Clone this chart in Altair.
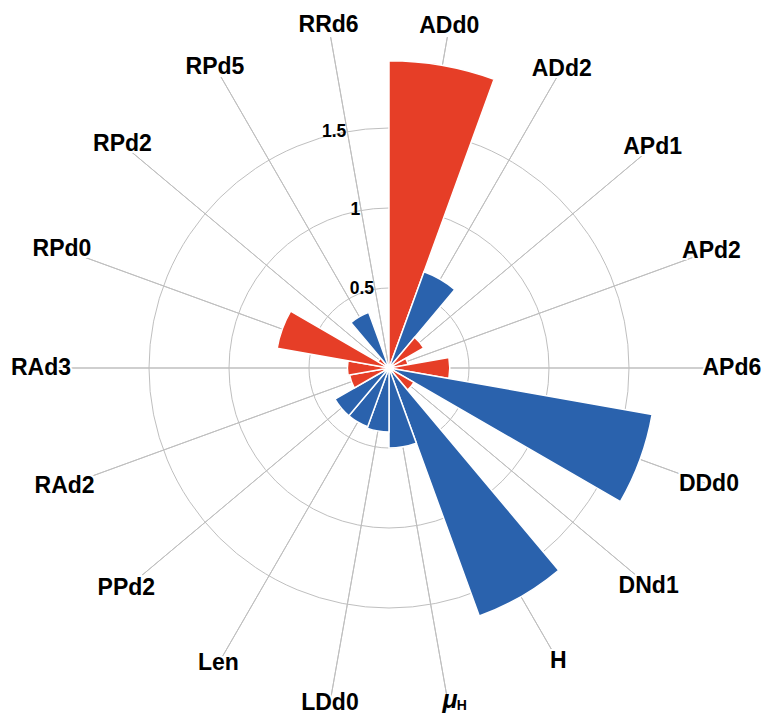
import altair as alt
import numpy as np
import pandas as pd

categories = ["ADd0", "ADd2", "APd1", "APd2", "APd6", "DDd0", "DNd1", "H", "μH",
              "LDd0", "Len", "PPd2", "RAd2", "RAd3", "RPd0", "RPd2", "RPd5", "RRd6"]
values = [1.92, 0.64, 0.25, 0.12, 0.38, 1.67, 0.18, 1.65, 0.50,
          0.40, 0.39, 0.39, 0.25, 0.26, 0.71, 0.08, 0.37, 0.02]
signs = ["pos", "neg", "pos", "pos", "pos", "neg", "pos", "neg", "neg",
         "neg", "neg", "neg", "pos", "pos", "pos", "pos", "neg", "pos"]
grid_values = [0.5, 1.0, 1.5]
grid_labels = ["0.5", "1", "1.5"]

RED = "#E63E27"
BLUE = "#2A62AD"
GRID = "#bfbfbf"
FONT = "Liberation Sans"

n = len(categories)
step = 360.0 / n
df = pd.DataFrame({
    "cat": categories,
    "value": values,
    "sign": signs,
    "start": [i * step for i in range(n)],
    "end": [(i + 1) * step for i in range(n)],
    "mid": [(i + 0.5) * step for i in range(n)],
})
df["spoke"] = 2.1
rad = np.deg2rad(df["mid"])
# label ring, pulled in slightly on the right and bottom so the text stays inside the page
df["labr"] = 2.175 - 0.032 * np.clip(np.sin(rad), 0, None) - 0.05 * np.clip(-np.cos(rad), 0, None)

grid_df = pd.DataFrame({"r": grid_values, "lab": grid_labels, "t0": 0.0, "t1": 360.0, "ta": 350.0})

theta_scale = alt.Scale(domain=[0, 360], range=[0, 6.283185307179586])
r_scale = alt.Scale(type="linear", domain=[0, 2], range=[0, 320])

CX = alt.value(381)
CY = alt.value(360)

circles = alt.Chart(grid_df).mark_arc(fillOpacity=0, stroke=GRID, strokeWidth=1).encode(
    theta=alt.Theta("t0:Q", scale=theta_scale, stack=False),
    theta2="t1:Q",
    radius=alt.Radius("r:Q", scale=r_scale),
    x=CX, y=CY,
)

spokes = alt.Chart(df).mark_arc(fillOpacity=0, stroke=GRID, strokeWidth=1).encode(
    theta=alt.Theta("mid:Q", scale=theta_scale, stack=False),
    theta2="mid:Q",
    radius=alt.Radius("spoke:Q", scale=r_scale),
    x=CX, y=CY,
)

bars = alt.Chart(df).mark_arc(stroke="white", strokeWidth=1.5).encode(
    theta=alt.Theta("start:Q", scale=theta_scale, stack=False),
    theta2="end:Q",
    radius=alt.Radius("value:Q", scale=r_scale),
    color=alt.Color("sign:N", scale=alt.Scale(domain=["pos", "neg"], range=[RED, BLUE]), legend=None),
    x=CX, y=CY,
)

ticklabs = alt.Chart(grid_df).mark_text(
    align="right", baseline="middle", font=FONT, fontWeight="bold", fontSize=17.5, color="black", dx=-1
).encode(
    theta=alt.Theta("ta:Q", scale=theta_scale, stack=False),
    radius=alt.Radius("r:Q", scale=r_scale),
    text="lab:N",
    x=CX, y=CY,
)

main_labels = alt.Chart(df).transform_filter(alt.datum.cat != "μH")

halo = main_labels.mark_text(
    align="center", baseline="middle", font=FONT, fontWeight="bold", fontSize=23,
    color="white", stroke="white", strokeWidth=4
).encode(
    theta=alt.Theta("mid:Q", scale=theta_scale, stack=False),
    radius=alt.Radius("labr:Q", scale=r_scale),
    text="cat:N",
    x=CX, y=CY,
)

labels = main_labels.mark_text(
    align="center", baseline="middle", font=FONT, fontWeight="bold", fontSize=23, color="black"
).encode(
    theta=alt.Theta("mid:Q", scale=theta_scale, stack=False),
    radius=alt.Radius("labr:Q", scale=r_scale),
    text="cat:N",
    x=CX, y=CY,
)

mu_src = alt.Chart(df).transform_filter(alt.datum.cat == "μH")

mu = mu_src.mark_text(
    align="center", baseline="middle", font=FONT, fontWeight="bold", fontStyle="italic",
    fontSize=25, color="black", dx=2, dy=-2
).encode(
    theta=alt.Theta("mid:Q", scale=theta_scale, stack=False),
    radius=alt.Radius("labr:Q", scale=r_scale),
    text=alt.value("μ"),
    x=CX, y=CY,
)

mu_sub = mu_src.mark_text(
    align="center", baseline="middle", font=FONT, fontWeight="bold",
    fontSize=14, color="black", dx=14, dy=4
).encode(
    theta=alt.Theta("mid:Q", scale=theta_scale, stack=False),
    radius=alt.Radius("labr:Q", scale=r_scale),
    text=alt.value("H"),
    x=CX, y=CY,
)

chart = alt.layer(
    circles, spokes, bars, halo, labels, ticklabs, mu, mu_sub
).properties(
    width=754, height=707, autosize="none", padding=0
).configure_view(strokeWidth=0)

chart.save("out.html", embed_options={"renderer": "svg", "actions": False})
